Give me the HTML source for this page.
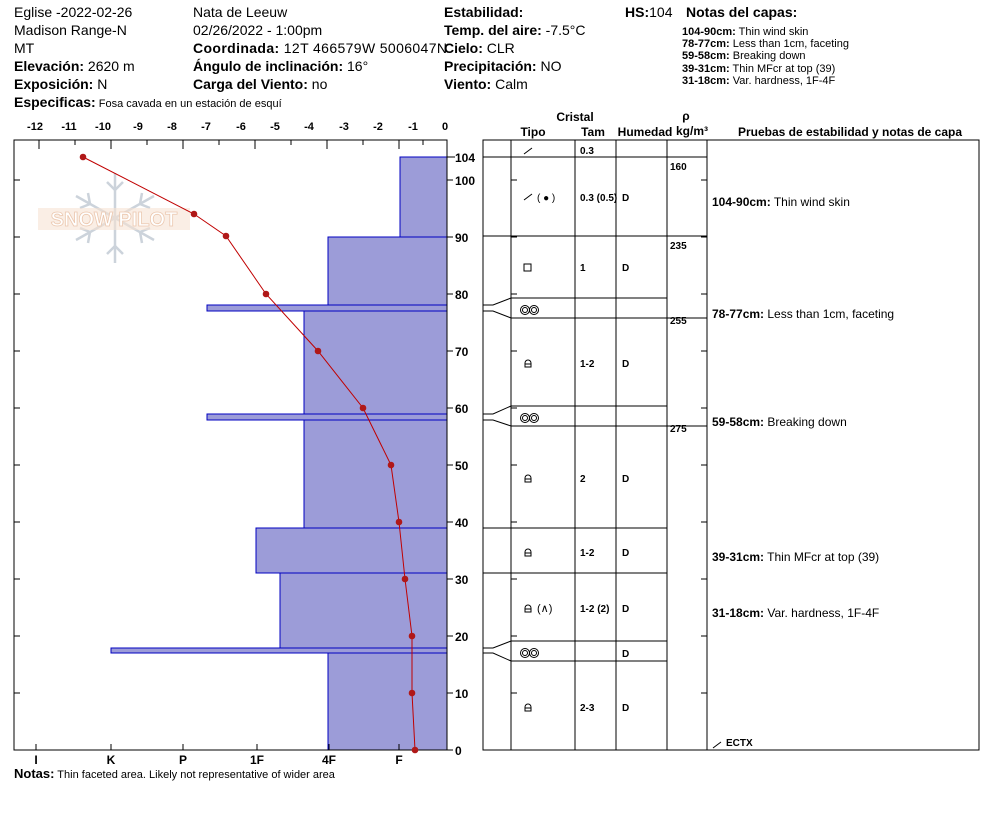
<!DOCTYPE html>
<html><head><meta charset="utf-8"><style>
body{margin:0;background:#fff}
svg{display:block;font-family:"Liberation Sans",Arial,sans-serif}
.b{font-weight:bold}
</style></head><body>
<svg width="994" height="840" viewBox="0 0 994 840" xmlns="http://www.w3.org/2000/svg">
<g font-size="14" fill="#000">
<text x="14" y="17">Eglise -2022-02-26</text>
<text x="14" y="35">Madison Range-N</text>
<text x="14" y="53">MT</text>
<text x="14" y="71"><tspan class="b">Elevación:</tspan> 2620 m</text>
<text x="14" y="89"><tspan class="b">Exposición:</tspan> N</text>
<text x="193" y="17">Nata de Leeuw</text>
<text x="193" y="35">02/26/2022 - 1:00pm</text>
<text x="193" y="53" textLength="254"><tspan class="b">Coordinada:</tspan> 12T 466579W 5006047N</text>
<text x="193" y="71"><tspan class="b">Ángulo de inclinación:</tspan> 16°</text>
<text x="193" y="89"><tspan class="b">Carga del Viento:</tspan> no</text>
<text x="444" y="17" class="b">Estabilidad:</text>
<text x="444" y="35"><tspan class="b">Temp. del aire:</tspan> -7.5°C</text>
<text x="444" y="53"><tspan class="b">Cielo:</tspan> CLR</text>
<text x="444" y="71"><tspan class="b">Precipitación:</tspan> NO</text>
<text x="444" y="89"><tspan class="b">Viento:</tspan>  Calm</text>
<text x="625" y="17"><tspan class="b">HS:</tspan>104</text>
<text x="686" y="17" class="b">Notas del capas:</text>
</g>
<g font-size="11">
<text x="682" y="35"><tspan class="b">104-90cm:</tspan> Thin wind skin</text>
<text x="682" y="47"><tspan class="b">78-77cm:</tspan> Less than 1cm, faceting</text>
<text x="682" y="59"><tspan class="b">59-58cm:</tspan> Breaking down</text>
<text x="682" y="72"><tspan class="b">39-31cm:</tspan> Thin MFcr at top (39)</text>
<text x="682" y="84"><tspan class="b">31-18cm:</tspan> Var. hardness, 1F-4F</text>
<text x="14" y="107"><tspan class="b" font-size="14">Especificas:</tspan> Fosa cavada en un estación de esquí</text>
<text x="14" y="778"><tspan class="b" font-size="13">Notas:</tspan> Thin faceted area. Likely not representative of wider area</text>
</g>
<g opacity="0.5">
<g stroke="#9aa8b8" stroke-width="2.5" fill="none" transform="translate(115,218)">
<path d="M0-45V45M-39-22L39 22M-39 22L39-22"/>
<path d="M-8-36L0-28L8-36M-8 36L0 28L8 36M-35-10L-25-14L-27-25M35 10L25 14L27 25M-35 10L-25 14L-27 25M35-10L25-14L27-25"/>
</g>
<rect x="38" y="208" width="152" height="22" fill="#f0c8a8" opacity="0.6"/>
<text x="114" y="226" font-size="20" font-weight="bold" text-anchor="middle" fill="#fff" stroke="#d89060" stroke-width="0.8">SNOW PILOT</text>
</g>
<g fill="#9c9cd8" stroke="#0000c0" stroke-width="1">
<rect x="400" y="157" width="47" height="80"/>
<rect x="328" y="237" width="119" height="68"/>
<rect x="207" y="305" width="240" height="6"/>
<rect x="304" y="311" width="143" height="103"/>
<rect x="207" y="414" width="240" height="6"/>
<rect x="304" y="420" width="143" height="108"/>
<rect x="256" y="528" width="191" height="45"/>
<rect x="280" y="573" width="167" height="75"/>
<rect x="111" y="648" width="336" height="5"/>
<rect x="328" y="653" width="119" height="97"/>
</g>
<g stroke="#000" stroke-width="1" fill="none">
<path d="M14 140H447V750H14Z"/>
<path d="M39 140v9M111 140v9M183 140v9M255 140v9M327 140v9M399 140v9M75 140v5M147 140v5M219 140v5M291 140v5M363 140v5M423 140v5"/>
<path d="M14 180h6M14 237h6M14 294h6M14 351h6M14 408h6M14 465h6M14 522h6M14 579h6M14 636h6M14 693h6"/>
<path d="M447 157h8M447 180h6M447 237h6M447 294h6M447 351h6M447 408h6M447 465h6M447 522h6M447 579h6M447 636h6M447 693h6M447 750h6"/>
<path d="M36 750v-6M111 750v-6M183 750v-6M257 750v-6M329 750v-6M399 750v-6"/>
</g>
<g font-size="11" text-anchor="middle" font-weight="bold">
<text x="35" y="130">-12</text><text x="69" y="130">-11</text><text x="103" y="130">-10</text><text x="138" y="130">-9</text><text x="172" y="130">-8</text><text x="206" y="130">-7</text><text x="241" y="130">-6</text><text x="275" y="130">-5</text><text x="309" y="130">-4</text><text x="344" y="130">-3</text><text x="378" y="130">-2</text><text x="413" y="130">-1</text><text x="445" y="130">0</text>
<g font-size="12"><text x="36" y="764">I</text><text x="111" y="764">K</text><text x="183" y="764">P</text><text x="257" y="764">1F</text><text x="329" y="764">4F</text><text x="399" y="764">F</text></g>
</g>
<g font-size="12" font-weight="bold">
<text x="455" y="162">104</text><text x="455" y="185">100</text><text x="455" y="242">90</text><text x="455" y="299">80</text><text x="455" y="356">70</text><text x="455" y="413">60</text><text x="455" y="470">50</text><text x="455" y="527">40</text><text x="455" y="584">30</text><text x="455" y="641">20</text><text x="455" y="698">10</text><text x="455" y="755">0</text>
</g>
<polyline fill="none" stroke="#c00000" stroke-width="1" points="83,157 194,214 226,236 266,294 318,351 363,408 391,465 399,522 405,579 412,636 412,693 415,750"/>
<g fill="#b01818">
<circle cx="83" cy="157" r="3.3"/><circle cx="194" cy="214" r="3.3"/><circle cx="226" cy="236" r="3.3"/><circle cx="266" cy="294" r="3.3"/><circle cx="318" cy="351" r="3.3"/><circle cx="363" cy="408" r="3.3"/><circle cx="391" cy="465" r="3.3"/><circle cx="399" cy="522" r="3.3"/><circle cx="405" cy="579" r="3.3"/><circle cx="412" cy="636" r="3.3"/><circle cx="412" cy="693" r="3.3"/><circle cx="415" cy="750" r="3.3"/>
</g>
<g font-size="12" font-weight="bold" text-anchor="middle">
<text x="575" y="121">Cristal</text>
<text x="533" y="136">Tipo</text><text x="593" y="136">Tam</text><text x="645" y="136">Humedad</text>
<text x="686" y="120">ρ</text><text x="692" y="135">kg/m³</text>
<text x="850" y="136">Pruebas de estabilidad y notas de capa</text>
</g>
<g stroke="#000" stroke-width="1" fill="none">
<path d="M483 140H979V750H483Z"/>
<path d="M511 140V750M575 140V750M616 140V750M667 140V750M707 140V750"/>
<path d="M483 157H707"/>
<path d="M483 236H707"/>
<path d="M483 305h10l18-7H667M483 311h10l18 7H707"/>
<path d="M483 414h10l18-8H667M483 420h10l18 6H707"/>
<path d="M483 528H667M483 573H667"/>
<path d="M483 648h10l18-7H667M483 653h10l18 8H667"/>
<path d="M511 180h6M511 237h6M511 294h6M511 351h6M511 408h6M511 465h6M511 522h6M511 579h6M511 636h6M511 693h6"/>
<path d="M707 180h-6M707 237h-6M707 294h-6M707 351h-6M707 408h-6M707 465h-6M707 522h-6M707 579h-6M707 636h-6M707 693h-6"/>
<path d="M524 154l8-6M524 200l8-6M713 748l8-6"/>
<rect x="524" y="264" width="7" height="7"/>
<circle cx="525" cy="310" r="4.5"/><circle cx="534" cy="310" r="4.5"/><circle cx="525" cy="310" r="2.5"/><circle cx="534" cy="310" r="2.5"/>
<circle cx="525" cy="418" r="4.5"/><circle cx="534" cy="418" r="4.5"/><circle cx="525" cy="418" r="2.5"/><circle cx="534" cy="418" r="2.5"/>
<circle cx="525" cy="653" r="4.5"/><circle cx="534" cy="653" r="4.5"/><circle cx="525" cy="653" r="2.5"/><circle cx="534" cy="653" r="2.5"/>
<g stroke-width="1">
<path d="M525 367v-4a3 3 0 0 1 6 0v4zM525 364h6"/>
<path d="M525 482v-4a3 3 0 0 1 6 0v4zM525 479h6"/>
<path d="M525 556v-4a3 3 0 0 1 6 0v4zM525 553h6"/>
<path d="M525 612v-4a3 3 0 0 1 6 0v4zM525 609h6"/>
<path d="M525 711v-4a3 3 0 0 1 6 0v4zM525 708h6"/>
</g>
</g>
<g font-size="10" font-weight="bold">
<text x="580" y="154">0.3</text>
<text x="537" y="201" font-weight="normal">( ● )</text><text x="580" y="201">0.3 (0.5)</text><text x="622" y="201">D</text>
<text x="580" y="271">1</text><text x="622" y="271">D</text>
<text x="580" y="367">1-2</text><text x="622" y="367">D</text>
<text x="580" y="482">2</text><text x="622" y="482">D</text>
<text x="580" y="556">1-2</text><text x="622" y="556">D</text>
<text x="537" y="612" font-weight="normal" font-size="11">(∧)</text><text x="580" y="612">1-2 (2)</text><text x="622" y="612">D</text>
<text x="622" y="657">D</text>
<text x="580" y="711">2-3</text><text x="622" y="711">D</text>
<text x="670" y="170">160</text><text x="670" y="249">235</text><text x="670" y="324">255</text><text x="670" y="432">275</text>
<text x="726" y="746">ECTX</text>
</g>
<g font-size="12">
<text x="712" y="206"><tspan font-weight="bold">104-90cm:</tspan> Thin wind skin</text>
<text x="712" y="318"><tspan font-weight="bold">78-77cm:</tspan> Less than 1cm, faceting</text>
<text x="712" y="426"><tspan font-weight="bold">59-58cm:</tspan> Breaking down</text>
<text x="712" y="561"><tspan font-weight="bold">39-31cm:</tspan> Thin MFcr at top (39)</text>
<text x="712" y="617"><tspan font-weight="bold">31-18cm:</tspan> Var. hardness, 1F-4F</text>
</g>
</svg>
</body></html>
